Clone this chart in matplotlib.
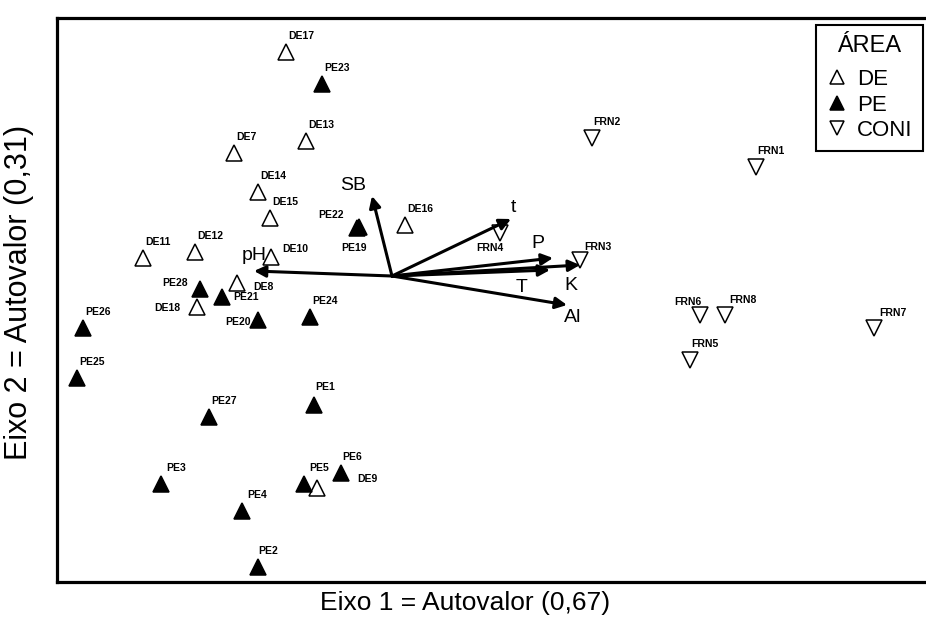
import matplotlib
matplotlib.use("Agg")
import matplotlib.pyplot as plt
from matplotlib.lines import Line2D

plt.rcParams['font.family'] = ['Liberation Sans', 'DejaVu Sans']

# site scores on the two ordination axes
de_names = ['DE17', 'DE13', 'DE7', 'DE14', 'DE15', 'DE16', 'DE11', 'DE12',
            'DE10', 'DE8', 'DE18', 'DE9']
de_x = [-1.06, -0.86, -1.58, -1.34, -1.22, 0.13, -2.49, -1.97, -1.21, -1.55, -1.95, -0.75]
de_y = [2.24, 1.35, 1.23, 0.84, 0.58, 0.51, 0.18, 0.24, 0.19, -0.07, -0.31, -2.12]

pe_names = ['PE23', 'PE22', 'PE19', 'PE28', 'PE21', 'PE20', 'PE24', 'PE26',
            'PE25', 'PE27', 'PE1', 'PE3', 'PE5', 'PE6', 'PE4', 'PE2']
pe_x = [-0.70, -0.35, -0.33, -1.92, -1.70, -1.34, -0.82, -3.09, -3.15, -1.83,
        -0.78, -2.31, -0.88, -0.51, -1.50, -1.34]
pe_y = [1.92, 0.48, 0.49, -0.13, -0.21, -0.44, -0.41, -0.52, -1.02, -1.41,
        -1.29, -2.08, -2.08, -1.97, -2.35, -2.91]

con_names = ['FRN2', 'FRN1', 'FRN4', 'FRN3', 'FRN6', 'FRN8', 'FRN7', 'FRN5']
con_x = [2.00, 3.64, 1.08, 1.88, 3.08, 3.33, 4.82, 2.98]
con_y = [1.38, 1.09, 0.43, 0.16, -0.39, -0.39, -0.52, -0.84]

# environmental vectors
env_names = ['SB', 't', 'P', 'K', 'T', 'Al', 'pH']
env_x = [-0.20, 1.19, 1.61, 1.88, 1.58, 1.75, -1.38]
env_y = [0.80, 0.57, 0.18, 0.11, 0.06, -0.29, 0.05]

# label offsets in pixels (default up-right of the marker)
default_off = (15, -16)
label_off = {
    'DE7': (12, -16), 'DE10': (24, -8), 'DE8': (26, 4), 'DE18': (-30, 1),
    'DE9': (50, -9), 'PE22': (-26, -13), 'PE19': (-5, 21), 'PE28': (-25, -6),
    'PE21': (24, 0), 'PE20': (-20, 2), 'PE1': (11, -18), 'PE6': (11, -16),
    'PE2': (10, -16), 'FRN6': (-12, -13), 'FRN4': (-10, 15), 'FRN3': (18, -13),
    'FRN8': (18, -15), 'FRN7': (19, -15),
}
env_label_off = {
    'SB': (-19, -10), 't': (2, -11), 'P': (-15, -15), 'K': (-9, 20),
    'T': (-28, 17), 'Al': (6, 13), 'pH': (0, -16),
}

fig = plt.figure(figsize=(9.26, 6.17), dpi=100)
ax = fig.add_axes([57 / 926, 1 - 582 / 617, (928 - 57) / 926, (582 - 18) / 617])
ax.set_xlim(-3.35, 5.36)
ax.set_ylim(-3.06, 2.58)
ax.set_xticks([])
ax.set_yticks([])
for sp in ax.spines.values():
    sp.set_linewidth(2.3)

ms = 11.5
ax.plot(de_x, de_y, ls='none', marker='^', ms=ms, mfc='white', mec='black', mew=1.1, zorder=3)
ax.plot(pe_x, pe_y, ls='none', marker='^', ms=ms, mfc='black', mec='black', mew=1.1, zorder=3)
ax.plot(con_x, con_y, ls='none', marker='v', ms=ms, mfc='white', mec='black', mew=1.1, zorder=3)

def put_labels(names, xs, ys):
    for n, x, y in zip(names, xs, ys):
        dx, dy = label_off.get(n, default_off)
        ax.annotate(n, (x, y), xytext=(dx * 0.72, -dy * 0.72), textcoords='offset points',
                    ha='center', va='center', fontsize=7.5, fontweight='bold', zorder=4)

put_labels(de_names, de_x, de_y)
put_labels(pe_names, pe_x, pe_y)
put_labels(con_names, con_x, con_y)

for n, x, y in zip(env_names, env_x, env_y):
    ax.annotate('', xy=(x, y), xytext=(0, 0),
                arrowprops=dict(arrowstyle='-|>', color='black', lw=2.2,
                                mutation_scale=17, shrinkA=0, shrinkB=0), zorder=5)
    dx, dy = env_label_off[n]
    ax.annotate(n, (x, y), xytext=(dx * 0.72, -dy * 0.72), textcoords='offset points',
                ha='center', va='center', fontsize=14, zorder=5)

handles = [
    Line2D([], [], ls='none', marker='^', ms=10, mfc='white', mec='black', mew=1.1),
    Line2D([], [], ls='none', marker='^', ms=10, mfc='black', mec='black', mew=1.1),
    Line2D([], [], ls='none', marker='v', ms=10, mfc='white', mec='black', mew=1.1),
]
leg = ax.legend(handles, ['DE', 'PE', 'CONI'], title='ÁREA', loc='upper right',
                bbox_to_anchor=(0.994, 0.988), borderaxespad=0,
                fontsize=16, title_fontsize=17,
                fancybox=False, edgecolor='black', framealpha=1,
                handlelength=1.0, handletextpad=0.4, labelspacing=0.2,
                borderpad=0.45)
leg.get_frame().set_linewidth(1.5)
# extra gap between the title and the entries
leg._legend_box.sep = 9

ax.set_xlabel('Eixo 1 = Autovalor (0,67)', fontsize=19)
ax.xaxis.set_label_coords(0.468, -0.016)
ax.set_ylabel('Eixo 2 = Autovalor (0,31)', fontsize=22)
ax.yaxis.set_label_coords(-0.026, 0.514)

fig.savefig('out.png', dpi=100)
